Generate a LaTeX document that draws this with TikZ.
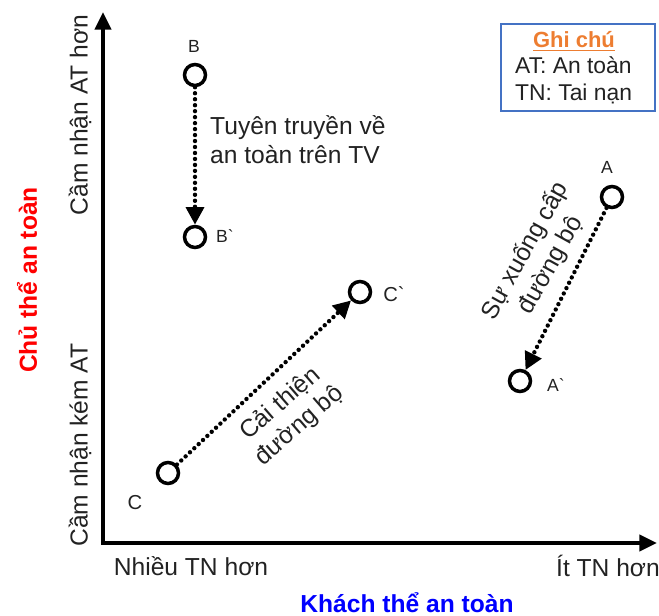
\documentclass[tikz,border=0pt]{standalone}
\usepackage{fontspec}
\setmainfont{Liberation Sans}
\usepackage{tikz}
\usetikzlibrary{arrows.meta,positioning}
\definecolor{AxisRed}{HTML}{FF0000}
\definecolor{AxisBlue}{HTML}{0000FF}
\definecolor{NoteOrange}{HTML}{ED7D31}
\definecolor{NoteFrame}{HTML}{4472C4}
\definecolor{TextGrey}{HTML}{222222}

\begin{document}
\begin{tikzpicture}[
  pt/.style={circle, draw, line width=2pt, minimum size=0.42cm, inner sep=0pt},
  ptlabel/.style={font=\fontsize{10}{12}\selectfont, text=TextGrey},
  axislabel/.style={font=\fontsize{14}{16}\selectfont, text=TextGrey},
  change/.style={dash pattern=on 0pt off 3.4pt, line cap=round, line width=2.5pt,
                 -{Triangle[length=10pt, width=10pt]}},
  note/.style={font=\fontsize{14}{16.5}\selectfont, text=TextGrey, align=left},
  title/.style={font=\fontsize{14}{16}\selectfont\bfseries, color=#1}
]
\useasboundingbox (0,0) rectangle (13.18,12.32);

% axes
\coordinate (O) at (2.06,1.46);
\coordinate (ytip) at (2.06,12.08);
\coordinate (xtip) at (13.14,1.46);
\draw[line width=2.8pt, miter limit=4,
      {Triangle[length=10pt, width=9pt]}-{Triangle[length=10pt, width=9pt]}]
  (ytip) -- (O) -- (xtip);

% axis labels
\node[axislabel, rotate=90] (yhi) at (1.60,10.02) {Cầm nhận AT hơn};
\node[axislabel, rotate=90] (ylo) at (1.60,3.42) {Cầm nhận kém AT};
\node[axislabel] (xlo) at (3.82,1.00) {Nhiều TN hơn};
\node[axislabel] (xhi) at (12.16,1.00) {Ít TN hơn};
\node[title=AxisRed, rotate=90] (ytitle) at (0.54,6.72) {Chủ thể an toàn};
\node[title=AxisBlue] (xtitle) at (8.14,0.26) {Khách thể an toàn};

% legend
\node[draw=NoteFrame, line width=0.8pt, minimum width=3.08cm,
      minimum height=1.74cm] (legend) at (11.56,10.97) {};
\node[font=\fontsize{12.5}{14}\selectfont\bfseries, text=NoteOrange]
  (legtitle) at (11.48,11.50) {\underline{Ghi chú}};
\node[font=\fontsize{13}{15.5}\selectfont, text=TextGrey, align=left, anchor=west]
  (legbody) at (10.18,10.72) {AT: An toàn\\TN: Tai nạn};

% B -> B`
\node[pt] (b) at (3.90,10.82) {};
\node[ptlabel] (blab) at (3.88,11.40) {B};
\node[pt] (b2) at (3.90,7.58) {};
\node[ptlabel] (b2lab) at (4.50,7.60) {B\textasciigrave};
\draw[change] (b) -- (b2);
\node[note, anchor=west] (tv) at (4.08,9.52) {Tuyên truyền về\\an toàn trên TV};

% C -> C`
\node[pt] (c) at (3.36,2.86) {};
\node[ptlabel, font=\fontsize{11.5}{13}\selectfont] (clab) at (2.70,2.26) {C};
\node[pt] (c2) at (7.20,6.48) {};
\node[ptlabel, font=\fontsize{11.5}{13}\selectfont] (c2lab) at (7.88,6.44) {C\textasciigrave};
\draw[change] (c) -- (c2);
\node[note, align=center, rotate=41] (road) at (5.80,4.02) {Cải thiện\\đường bộ};

% A -> A`
\node[pt] (a) at (12.24,8.38) {};
\node[ptlabel] (alab) at (12.14,8.98) {A};
\node[pt] (a2) at (10.40,4.70) {};
\node[ptlabel] (a2lab) at (11.12,4.62) {A\textasciigrave};
\draw[change] (a) -- (a2);
\node[note, align=center, rotate=61] (decay) at (10.76,7.16) {Sự xuống cấp\\đường bộ};

\end{tikzpicture}
\end{document}
